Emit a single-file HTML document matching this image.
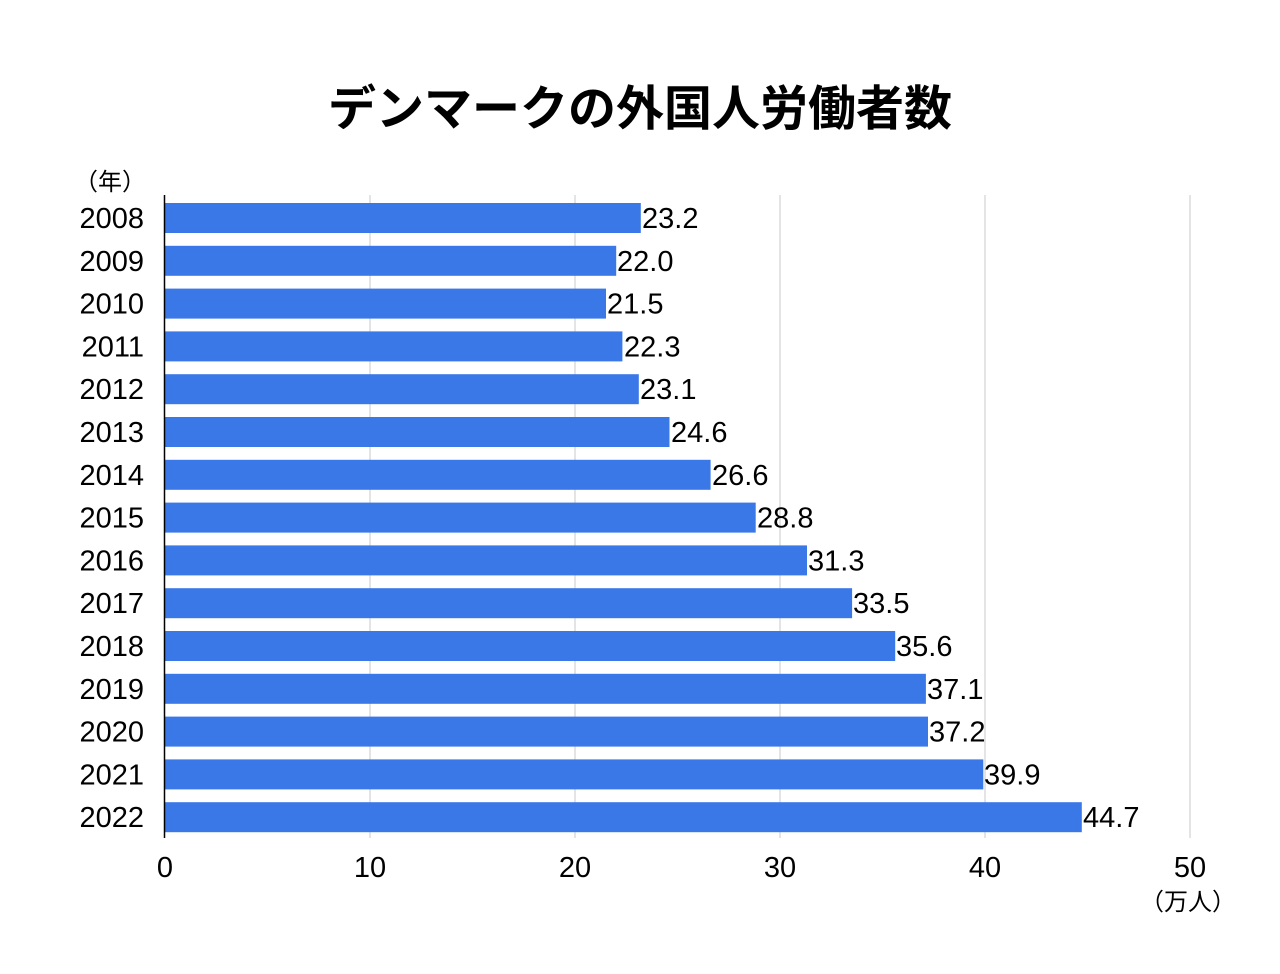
<!DOCTYPE html>
<html><head><meta charset="utf-8"><style>
html,body{margin:0;padding:0;background:#fff;}
svg{display:block;font-family:"Liberation Sans","Noto Sans CJK JP",sans-serif;}
</style></head><body>
<svg width="1280" height="974" viewBox="0 0 1280 974" xmlns="http://www.w3.org/2000/svg">
<rect width="1280" height="974" fill="#fff"/>
<text x="640" y="125" text-anchor="middle" font-size="48" font-weight="bold" fill="#000" font-family="'Noto Sans CJK JP',sans-serif">デンマークの外国人労働者数</text>
<g stroke="#c8c8c8" stroke-width="1">
<line x1="370" y1="195" x2="370" y2="838"/>
<line x1="575" y1="195" x2="575" y2="838"/>
<line x1="780" y1="195" x2="780" y2="838"/>
<line x1="985" y1="195" x2="985" y2="838"/>
<line x1="1190" y1="195" x2="1190" y2="838"/>
</g>
<text x="110" y="190" text-anchor="middle" font-size="24" fill="#000">（年）</text>
<g fill="#3b78e7">
<rect x="165" y="203" width="475.8" height="30"/>
<rect x="165" y="245.8" width="451.2" height="30"/>
<rect x="165" y="288.6" width="441.0" height="30"/>
<rect x="165" y="331.4" width="457.4" height="30"/>
<rect x="165" y="374.2" width="473.8" height="30"/>
<rect x="165" y="417" width="504.5" height="30"/>
<rect x="165" y="459.8" width="545.6" height="30"/>
<rect x="165" y="502.6" width="590.7" height="30"/>
<rect x="165" y="545.4" width="642.0" height="30"/>
<rect x="165" y="588.2" width="687.1" height="30"/>
<rect x="165" y="631" width="730.2" height="30"/>
<rect x="165" y="673.8" width="760.9" height="30"/>
<rect x="165" y="716.6" width="763.0" height="30"/>
<rect x="165" y="759.4" width="818.3" height="30"/>
<rect x="165" y="802.2" width="916.8" height="30"/>
</g>
<line x1="164.5" y1="195" x2="164.5" y2="838" stroke="#000" stroke-width="1.5"/>
<g font-size="29" fill="#000" text-anchor="end">
<text x="144" y="228">2008</text>
<text x="144" y="270.8">2009</text>
<text x="144" y="313.6">2010</text>
<text x="144" y="356.4">2011</text>
<text x="144" y="399.2">2012</text>
<text x="144" y="442">2013</text>
<text x="144" y="484.8">2014</text>
<text x="144" y="527.6">2015</text>
<text x="144" y="570.4">2016</text>
<text x="144" y="613.2">2017</text>
<text x="144" y="656">2018</text>
<text x="144" y="698.8">2019</text>
<text x="144" y="741.6">2020</text>
<text x="144" y="784.4">2021</text>
<text x="144" y="827.2">2022</text>
</g>
<g font-size="29" fill="#000">
<text x="642" y="228">23.2</text>
<text x="617" y="270.8">22.0</text>
<text x="607" y="313.6">21.5</text>
<text x="624" y="356.4">22.3</text>
<text x="640" y="399.2">23.1</text>
<text x="671" y="442">24.6</text>
<text x="712" y="484.8">26.6</text>
<text x="757" y="527.6">28.8</text>
<text x="808" y="570.4">31.3</text>
<text x="853" y="613.2">33.5</text>
<text x="896" y="656">35.6</text>
<text x="927" y="698.8">37.1</text>
<text x="929" y="741.6">37.2</text>
<text x="984" y="784.4">39.9</text>
<text x="1083" y="827.2">44.7</text>
</g>
<g font-size="29" fill="#000" text-anchor="middle">
<text x="165" y="877">0</text><text x="370" y="877">10</text><text x="575" y="877">20</text><text x="780" y="877">30</text><text x="985" y="877">40</text><text x="1190" y="877">50</text>
</g>
<text x="1188" y="910" text-anchor="middle" font-size="24" fill="#000">（万人）</text>
</svg>
</body></html>
